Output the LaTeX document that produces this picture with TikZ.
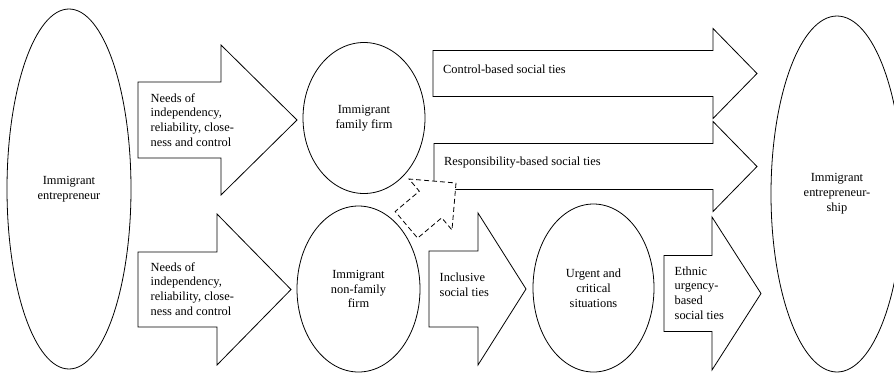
\documentclass[tikz,border=0pt]{standalone}
\usepackage{fontspec}
\setmainfont{Liberation Serif}
\usepackage{tikz}
\usetikzlibrary{shapes.geometric,positioning,calc}

\begin{document}
\begin{tikzpicture}[
    x=1pt, y=-1pt,
    % Stili base
    actor/.style={ellipse, draw=black, line width=0.8pt, inner sep=0pt, align=center, font=\fontsize{12.4}{14.8}\selectfont},
    blockarrow/.style={draw=black, fill=white, line width=0.8pt, line join=miter},
    linkarrow/.style={draw=black, fill=white, line width=0.8pt, dash pattern=on 5pt off 3pt},
    % Testo
    tie/.style={anchor=west, inner sep=0pt, align=left, font=\fontsize{12.4}{14.8}\selectfont}
]
\useasboundingbox (0,0) rectangle (894,373);

% === FRECCE BISOGNI ===
\draw[blockarrow] (138,82) -- (221,82) -- (221,45) -- (297,120) -- (221,195) -- (221,158) -- (138,158) -- cycle;
\draw[blockarrow] (138,252) -- (217,252) -- (217,214) -- (291,289.5) -- (217,365) -- (217,327) -- (138,327) -- cycle;
\node[tie] (needs_fam) at (150.5,120) {Needs of\\independency,\\reliability, close-\\ness and control};
\node[tie] (needs_nonfam) at (150.5,289) {Needs of\\independency,\\reliability, close-\\ness and control};

% === LEGAMI SOCIALI (IMPRESA FAMILIARE) ===
\draw[blockarrow] (433,50.5) -- (713,50.5) -- (713,28.5) -- (757,73.5) -- (713,118.5) -- (713,96.5) -- (433,96.5) -- cycle;
\draw[blockarrow] (434,143.5) -- (713,143.5) -- (713,121.5) -- (757,166.5) -- (713,211.5) -- (713,189.5) -- (434,189.5) -- cycle;
\node[tie] (ctrl_ties) at (443,69) {Control-based social ties};
\node[tie] (resp_ties) at (444,163) {Responsibility-based social ties};

% Freccia tratteggiata
\draw[linkarrow] (456,183) -- (452,230) -- (441.7,217.8) -- (417.6,238.1) -- (395.2,211.5) -- (419.3,191.2) -- (409,179) -- cycle;

% === LEGAMI SOCIALI (IMPRESA NON FAMILIARE) ===
\draw[blockarrow] (429,251) -- (478,251) -- (478,213) -- (526,289) -- (478,365) -- (478,327) -- (429,327) -- cycle;
\draw[blockarrow] (664,255.5) -- (712,255.5) -- (712,217) -- (761,293.5) -- (712,370) -- (712,331.5) -- (664,331.5) -- cycle;
\node[tie] (incl_ties) at (439.5,285) {Inclusive\\social ties};
\node[tie] (ethnic_ties) at (674.5,293) {Ethnic\\urgency-\\based\\social ties};

% === ATTORI ===
\node[actor, minimum width=124pt, minimum height=360pt] (entrepreneur) at (69,189) {Immigrant\\entrepreneur};
\node[actor, minimum width=122pt, minimum height=151pt] (family_firm) at (364,118) {Immigrant\\family firm};
\node[actor, minimum width=123pt, minimum height=166pt] (nonfamily_firm) at (358.5,289) {Immigrant\\non-family\\firm};
\node[actor, minimum width=121pt, minimum height=168pt] (urgent) at (593.5,288) {Urgent and\\critical\\situations};
\node[actor, minimum width=132pt, minimum height=356pt] (entrepreneurship) at (837,194) {Immigrant\\entrepreneur-\\ship};

\end{tikzpicture}
\end{document}
